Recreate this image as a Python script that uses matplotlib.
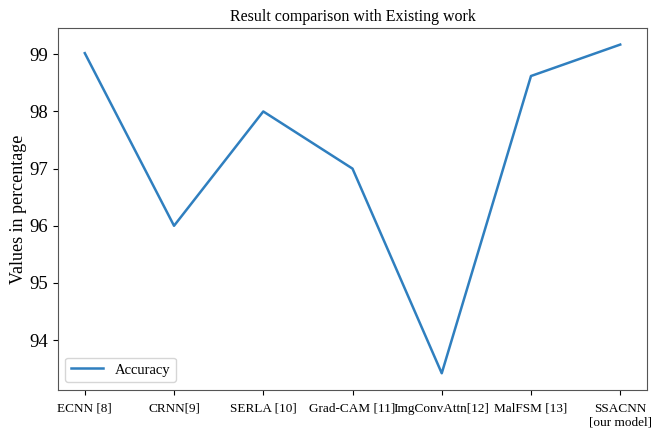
import matplotlib.pyplot as plt

models = ['ECNN [8]', 'CRNN[9]', 'SERLA [10]', 'Grad-CAM [11]',
          'ImgConvAttn[12]', 'MalFSM [13]', 'SSACNN\n[our model]']
accuracy = [99.02, 96.0, 98.0, 97.0, 93.42, 98.62, 99.17]

plt.rcParams['font.family'] = ['Liberation Serif', 'DejaVu Serif']

fig, ax = plt.subplots(figsize=(6.67, 4.33), dpi=100)
ax.plot(models, accuracy, color='#2f7fbf', linewidth=1.8, label='Accuracy')
ax.set_title('Result comparison with Existing work', fontsize=11.5, pad=5)
ax.set_ylabel('Values in percentage', fontsize=13)
ax.yaxis.set_label_coords(-0.053, 0.5)
ax.tick_params(axis='x', labelsize=9.5, pad=6)
ax.tick_params(axis='y', labelsize=13.5)
ax.legend(loc='lower left', fontsize=10.5, handlelength=2.2)
for s in ax.spines.values():
    s.set_color('#555555')

fig.subplots_adjust(left=0.087, right=0.97, top=0.935, bottom=0.10)
plt.savefig('out.png')
